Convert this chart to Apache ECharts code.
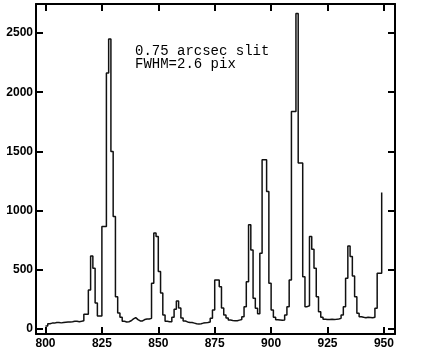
<!DOCTYPE html>
<html><head><meta charset="utf-8">
<script src="https://cdn.jsdelivr.net/npm/echarts@6/dist/echarts.min.js"></script>
<style>html,body{margin:0;padding:0;background:#fff}#c{width:423px;height:361px}</style>
</head><body><div id="c"></div>
<script>
// first bin (left edge), bins are 1 unit wide
const binStart = 800;
// counts per bin, 800 .. 949
const counts = [
  25, 45, 50, 50, 55, 55, 52, 55, 58, 60,      // 800-809
  60, 62, 65, 65, 62, 65, 70, 125, 125, 330,   // 810-819
  617, 513, 220, 110, 110, 866, 866, 2163, 2450, 1500, // 820-829
  950, 273, 135, 100, 65, 60, 62, 70, 85, 96,  // 830-839
  80, 68, 68, 80, 84, 84, 90, 387, 810, 781,   // 840-849
  485, 304, 118, 65, 62, 62, 100, 167, 237, 178, // 850-859
  93, 68, 60, 55, 55, 50, 45, 42, 45, 50,      // 860-869
  52, 55, 60, 90, 160, 414, 414, 358, 178, 118, // 870-879
  93, 76, 72, 70, 70, 75, 80, 104, 189, 400,   // 880-889
  880, 668, 260, 175, 130, 640, 1430, 1430, 1162, 387, // 890-899
  160, 100, 78, 76, 74, 76, 118, 189, 414, 1838, // 900-909
  1838, 2665, 1402, 1402, 442, 189, 196, 781, 674, 513, // 910-919
  273, 146, 99, 82, 80, 80, 82, 80, 82, 85,    // 920-929
  90, 118, 189, 429, 702, 612, 448, 273, 133, 104, // 930-939
  99, 96, 100, 98, 95, 100, 175, 471, 471, 1153 // 940-949
];
const xTicks = [800, 825, 850, 875, 900, 925, 950];
const yTicks = [0, 500, 1000, 1500, 2000, 2500];
const noteLines = ['0.75 arcsec slit', 'FWHM=2.6 pix'];

const xMin = 795.8, xMax = 954.9, yMin = -42, yMax = 2745;

const data = counts.map((v, i) => [binStart + i, v]);

const labelFont = {
  fontFamily: '"Liberation Sans Narrow", "Liberation Sans", Arial, sans-serif',
  fontWeight: 'bold', fontSize: 12, color: '#000'
};
const tickStyle = { show: true, inside: true, length: 7, lineStyle: { color: '#000', width: 2 } };
const lineStyle = { show: true, onZero: false, lineStyle: { color: '#000', width: 2 } };
const plain = v => String(v);

function xAx(pos, labels) {
  return {
    type: 'value', position: pos, min: xMin, max: xMax,
    axisLine: lineStyle,
    axisTick: Object.assign({ customValues: xTicks }, tickStyle),
    axisLabel: Object.assign({ show: labels, margin: 4, customValues: xTicks, formatter: plain }, labelFont),
    splitLine: { show: false }
  };
}
function yAx(pos, labels) {
  return {
    type: 'value', position: pos, min: yMin, max: yMax,
    axisLine: lineStyle,
    axisTick: Object.assign({ customValues: yTicks }, tickStyle),
    axisLabel: Object.assign({ show: labels, margin: 3, customValues: yTicks, formatter: plain }, labelFont),
    splitLine: { show: false }
  };
}

const chart = echarts.init(document.getElementById('c'), null, { renderer: 'canvas' });
chart.setOption({
  animation: false,
  backgroundColor: '#fff',
  grid: { left: 36, right: 28, top: 4, bottom: 27, containLabel: false, outerBoundsMode: 'none' },
  xAxis: [xAx('bottom', true), xAx('top', false)],
  yAxis: [yAx('left', true), yAx('right', false)],
  graphic: noteLines.map((t, i) => ({
    type: 'text', left: 135, top: 44 + i * 13.5,
    style: { text: t, font: '14px "Liberation Mono", "Courier New", monospace', fill: '#000' }
  })),
  series: [{
    type: 'line', step: 'end', data: data, symbol: 'none',
    xAxisIndex: 0, yAxisIndex: 0,
    lineStyle: { color: '#111', width: 1.5 }
  }]
});
</script>
</body></html>
